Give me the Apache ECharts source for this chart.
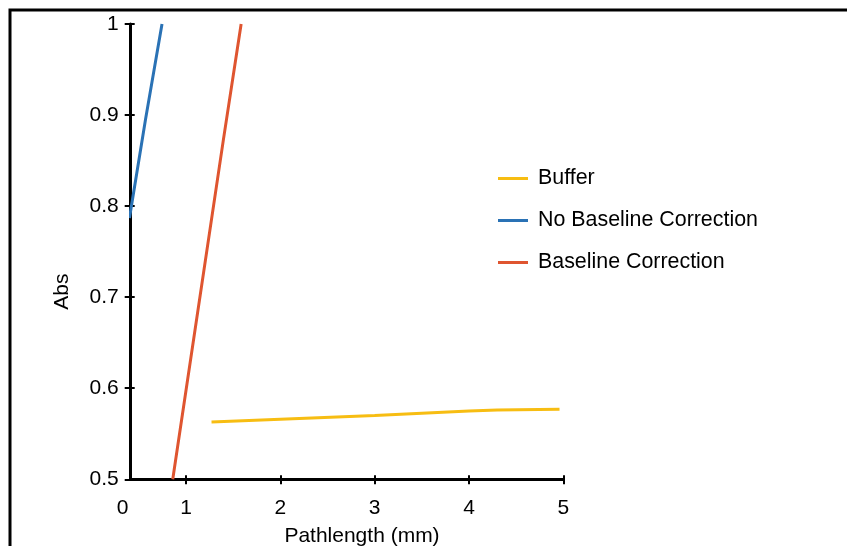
<!DOCTYPE html>
<html>
<head>
<meta charset="utf-8">
<title>Abs vs Pathlength</title>
<script src="https://cdn.jsdelivr.net/npm/echarts@6/dist/echarts.min.js"></script>
<style>
  html, body { margin: 0; padding: 0; background: #fff; }
  #chart { width: 847px; height: 546px; }
</style>
</head>
<body>
<div id="chart"></div>
<script>
// Measured series (pathlength in mm, absorbance)
const bufferData = [[1.27, 0.563], [2.0, 0.566], [3.0, 0.570], [4.0, 0.575], [4.3, 0.576], [4.96, 0.577]];
const noBaselineData = [[0.40, 0.787], [0.57, 0.895], [0.745, 1.0]];
const baselineData = [[0.859, 0.5], [1.396, 0.873], [1.584, 1.0]];

const seriesNames = ['Buffer', 'No Baseline Correction', 'Baseline Correction'];
const seriesColors = ['#F7BD12', '#2A72B5', '#DF5530'];

// Axis ranges and tick labels
const X_MIN = 0.413, X_MAX = 5;
const xTickValues = [1, 2, 3, 4, 5];
const xLabelValues = [X_MIN, 1, 2, 3, 4, 5];
const xLabelTexts = ['0', '1', '2', '3', '4', '5'];
const Y_MIN = 0.5, Y_MAX = 1, Y_STEP = 0.1;

const FONT = 'Liberation Sans, Arial, sans-serif';
const FS = 21;

const chart = echarts.init(document.getElementById('chart'), null, { renderer: 'canvas' });

const axisLineStyle = { color: '#000', width: 3 };
const tickLine = { color: '#000', width: 2 };

const option = {
  backgroundColor: '#fff',
  animation: false,
  textStyle: { fontFamily: FONT },
  grid: { left: 130.7, right: 283.7, top: 24, bottom: 66.7, containLabel: false, outerBoundsMode: 'none' },
  legend: {
    orient: 'vertical',
    left: 498,
    top: 168,
    padding: 0,
    icon: 'rect',
    itemWidth: 30,
    itemHeight: 3,
    itemGap: 21,
    data: seriesNames,
    textStyle: { fontFamily: FONT, fontSize: 21.4, color: '#000', lineHeight: 20, padding: [0, 0, 0, 5] }
  },
  xAxis: [
    {
      type: 'value', min: X_MIN, max: X_MAX,
      name: 'Pathlength (mm)', nameLocation: 'middle', nameGap: 46,
      nameTextStyle: { fontFamily: FONT, fontSize: FS, color: '#000', padding: [0, 0, 0, 30] },
      axisLine: { show: true, onZero: false, lineStyle: axisLineStyle },
      axisTick: { show: true, customValues: xTickValues, length: 5, lineStyle: tickLine },
      axisLabel: {
        show: true, customValues: xLabelValues, margin: 18, showMinLabel: true,
        fontFamily: FONT, fontSize: FS, color: '#000',
        formatter: function (v) {
          const i = xLabelValues.indexOf(v);
          const t = i >= 0 ? xLabelTexts[i] : String(v);
          return v === X_MIN ? '{z|' + t + '}' : t;
        },
        rich: { z: { fontFamily: FONT, fontSize: FS, color: '#000', padding: [0, 16, 0, 0] } }
      },
      splitLine: { show: false }
    },
    {
      type: 'value', min: X_MIN, max: X_MAX, position: 'bottom',
      axisLine: { show: false, onZero: false },
      axisTick: { show: true, inside: true, customValues: xTickValues, length: 4, lineStyle: tickLine },
      axisLabel: { show: false },
      splitLine: { show: false }
    }
  ],
  yAxis: [
    {
      type: 'value', min: Y_MIN, max: Y_MAX, interval: Y_STEP,
      name: 'Abs', nameLocation: 'middle', nameGap: 58,
      nameTextStyle: { fontFamily: FONT, fontSize: FS, color: '#000', padding: [0, 80, 0, 0] },
      axisLine: { show: true, onZero: false, lineStyle: axisLineStyle },
      axisTick: { show: true, length: 6, lineStyle: tickLine },
      axisLabel: {
        margin: 12, fontFamily: FONT, fontSize: FS, color: '#000',
        formatter: function (v) { return String(+v.toFixed(1)); }
      },
      splitLine: { show: false }
    },
    {
      type: 'value', min: Y_MIN, max: Y_MAX, interval: Y_STEP, position: 'left',
      axisLine: { show: false, onZero: false },
      axisTick: { show: true, inside: true, length: 4, lineStyle: tickLine },
      axisLabel: { show: false },
      splitLine: { show: false }
    }
  ],
  series: [
    { name: seriesNames[0], type: 'line', data: bufferData, color: seriesColors[0], showSymbol: false, symbol: 'none', clip: true, lineStyle: { width: 3, color: seriesColors[0] } },
    { name: seriesNames[1], type: 'line', data: noBaselineData, color: seriesColors[1], showSymbol: false, symbol: 'none', clip: true, lineStyle: { width: 3, color: seriesColors[1] } },
    { name: seriesNames[2], type: 'line', data: baselineData, color: seriesColors[2], showSymbol: false, symbol: 'none', clip: true, lineStyle: { width: 3, color: seriesColors[2] } }
  ],
  graphic: [
    {
      type: 'rect', silent: true, z: 100,
      shape: { x: 10, y: 10, width: 900, height: 700 },
      style: { fill: 'none', stroke: '#000', lineWidth: 3 }
    }
  ]
};

chart.setOption(option);
</script>
</body>
</html>
